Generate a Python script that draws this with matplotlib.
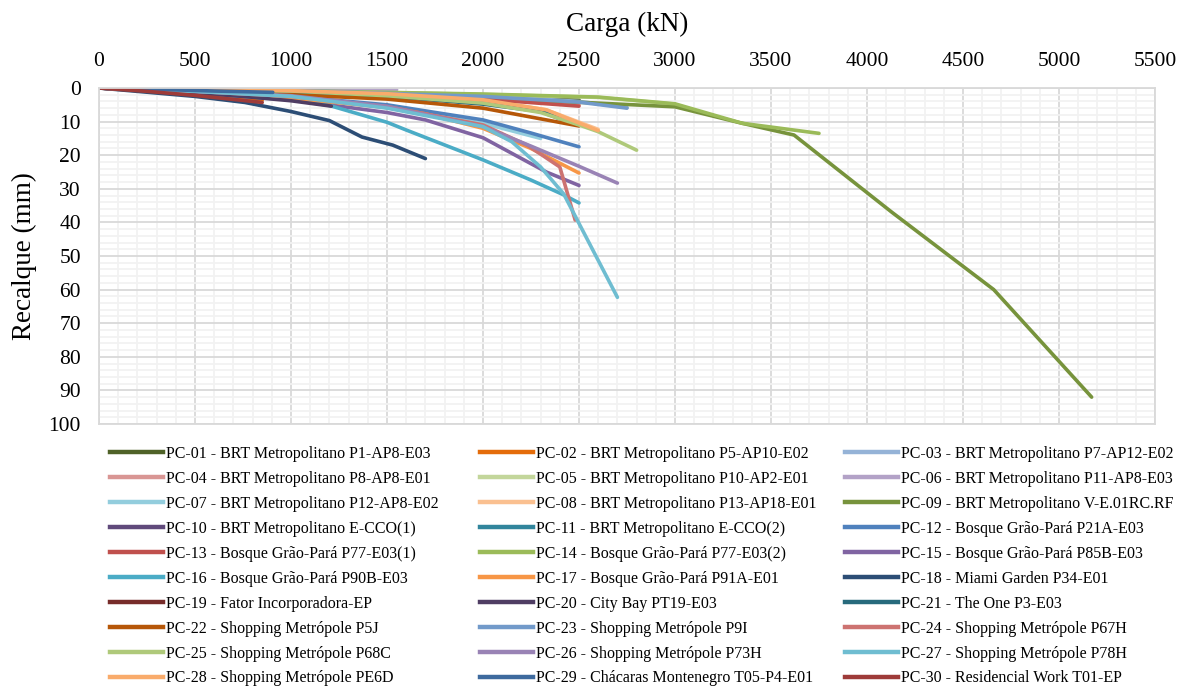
import matplotlib
matplotlib.use('Agg')
import matplotlib.pyplot as plt
from matplotlib.lines import Line2D
from matplotlib.ticker import MultipleLocator

plt.rcParams['font.family'] = ['Liberation Serif', 'DejaVu Serif']

# Curvas carga x recalque (carga em kN, recalque em mm)
labels = [
    'PC-01 - BRT Metropolitano P1-AP8-E03',
    'PC-02 - BRT Metropolitano P5-AP10-E02',
    'PC-03 - BRT Metropolitano P7-AP12-E02',
    'PC-04 - BRT Metropolitano P8-AP8-E01',
    'PC-05 - BRT Metropolitano P10-AP2-E01',
    'PC-06 - BRT Metropolitano P11-AP8-E03',
    'PC-07 - BRT Metropolitano P12-AP8-E02',
    'PC-08 - BRT Metropolitano P13-AP18-E01',
    'PC-09 - BRT Metropolitano V-E.01RC.RF',
    'PC-10 - BRT Metropolitano E-CCO(1)',
    'PC-11 - BRT Metropolitano E-CCO(2)',
    'PC-12 - Bosque Grão-Pará P21A-E03',
    'PC-13 - Bosque Grão-Pará P77-E03(1)',
    'PC-14 - Bosque Grão-Pará P77-E03(2)',
    'PC-15 - Bosque Grão-Pará P85B-E03',
    'PC-16 - Bosque Grão-Pará P90B-E03',
    'PC-17 - Bosque Grão-Pará P91A-E01',
    'PC-18 - Miami Garden P34-E01',
    'PC-19 - Fator Incorporadora-EP',
    'PC-20 - City Bay PT19-E03',
    'PC-21 - The One P3-E03',
    'PC-22 - Shopping Metrópole P5J',
    'PC-23 - Shopping Metrópole P9I',
    'PC-24 - Shopping Metrópole P67H',
    'PC-25 - Shopping Metrópole P68C',
    'PC-26 - Shopping Metrópole P73H',
    'PC-27 - Shopping Metrópole P78H',
    'PC-28 - Shopping Metrópole PE6D',
    'PC-29 - Chácaras Montenegro T05-P4-E01',
    'PC-30 - Residencial Work T01-EP',
]

colors = [
    '#4F6228', '#E46C0A', '#95B3D7', '#D99694', '#C3D69B', '#B3A2C7',
    '#93CDDD', '#FAC090', '#77933C', '#604A7B', '#31859C', '#4F81BD',
    '#C0504D', '#9BBB59', '#8064A2', '#4BACC6', '#F79646', '#2C4D75',
    '#772C2A', '#4F3D63', '#276A7C', '#B65708', '#729ACA', '#CD7371',
    '#AFC97A', '#9983B5', '#6FBDD1', '#F9AB6B', '#3E6A9E', '#9E3B39',
]

pc01_x = [0, 500, 1000, 1500, 2000, 2500]
pc01_y = [0, 0.3, 0.8, 1.5, 2.5, 3.5]
pc02_x = [0, 250, 500, 750, 850]
pc02_y = [0, 0.8, 1.8, 3.0, 3.6]
pc03_x = [0, 1000, 2000, 2500, 2750]
pc03_y = [0, 0.7, 2.3, 4.0, 5.8]
pc04_x = [0, 500, 1000, 1500, 2000, 2500]
pc04_y = [0, 0.4, 1.0, 1.8, 3.0, 5.0]
pc05_x = [0, 1000, 2000, 2600, 3000]
pc05_y = [0, 0.8, 1.9, 2.8, 4.8]
pc06_x = [0, 500, 1000, 1550]
pc06_y = [0, 0.1, 0.3, 0.5]
pc07_x = [0, 500, 1000, 1500, 2000, 2300]
pc07_y = [0, 1.0, 2.5, 5.5, 10.5, 15.0]
pc08_x = [0, 500, 1000, 1500, 2000, 2330, 2600]
pc08_y = [0, 0.3, 0.8, 1.5, 3.5, 6.5, 12.3]
pc09_x = [0, 1000, 2000, 2600, 3000, 3350, 3620, 4130, 4660, 5170]
pc09_y = [0, 1.0, 3.0, 4.5, 5.6, 10.5, 14.0, 37.0, 60.0, 92.0]
pc10_x = [0, 500, 1000, 1200]
pc10_y = [0, 1.2, 3.0, 4.3]
pc11_x = [0, 1000, 1500, 2000, 2300, 2450]
pc11_y = [0, 1.0, 2.3, 4.5, 6.8, 10.0]
pc12_x = [0, 500, 1000, 1500, 1720, 2000, 2250, 2500]
pc12_y = [0, 1.0, 2.5, 5.0, 7.0, 9.5, 13.4, 17.5]
pc13_x = [0, 1000, 1500, 2000, 2500]
pc13_y = [0, 1.0, 2.0, 3.3, 5.4]
pc14_x = [0, 1000, 2000, 2600, 3000, 3350, 3750]
pc14_y = [0, 0.8, 1.8, 2.7, 4.7, 10.5, 13.5]
pc15_x = [0, 500, 1000, 1500, 1700, 2000, 2330, 2500]
pc15_y = [0, 1.5, 3.5, 7.3, 9.5, 14.8, 25.0, 29.0]
pc16_x = [0, 500, 1000, 1200, 1500, 1600, 2000, 2250, 2420, 2500]
pc16_y = [0, 1.5, 3.5, 5.2, 10.2, 12.5, 21.4, 27.4, 31.8, 34.2]
pc17_x = [0, 500, 1000, 1500, 1700, 2000, 2250, 2500]
pc17_y = [0, 1.2, 3.0, 5.8, 7.7, 12.0, 18.0, 25.3]
pc18_x = [0, 500, 760, 1000, 1200, 1370, 1530, 1700]
pc18_y = [0, 2.5, 4.3, 7.0, 9.7, 14.6, 17.0, 21.0]
pc19_x = [0, 500, 1000, 1500, 1600]
pc19_y = [0, 0.5, 1.2, 2.5, 3.3]
pc20_x = [0, 250, 500, 750, 1000, 1210]
pc20_y = [0, 0.6, 1.5, 2.5, 3.8, 5.4]
pc21_x = [0, 1000, 1500, 2000, 2300, 2460]
pc21_y = [0, 1.0, 2.5, 4.8, 7.0, 10.5]
pc22_x = [0, 500, 1000, 1500, 2000, 2500]
pc22_y = [0, 0.8, 2.0, 3.3, 6.0, 11.3]
pc23_x = [0, 1000, 2000, 2500, 2750]
pc23_y = [0, 0.7, 2.5, 4.2, 6.0]
pc24_x = [0, 500, 1000, 1500, 2000, 2230, 2400, 2480]
pc24_y = [0, 1.0, 2.5, 5.5, 11.0, 17.0, 23.5, 39.3]
pc25_x = [0, 1000, 1500, 2000, 2300, 2500, 2600, 2800]
pc25_y = [0, 0.9, 2.3, 4.5, 7.3, 11.0, 13.0, 18.5]
pc26_x = [0, 500, 1000, 1500, 2000, 2250, 2500, 2700]
pc26_y = [0, 1.0, 2.3, 5.5, 11.5, 17.3, 23.3, 28.3]
pc27_x = [0, 500, 1000, 1500, 2000, 2150, 2300, 2420, 2700]
pc27_y = [0, 1.0, 2.5, 6.0, 11.5, 16.0, 23.5, 31.5, 62.3]
pc28_x = [0, 500, 1000, 1500, 2000, 2330, 2600]
pc28_y = [0, 0.3, 0.8, 1.7, 3.5, 6.5, 12.7]
pc29_x = [0, 300, 600, 905]
pc29_y = [0, 0.4, 0.9, 1.3]
pc30_x = [0, 250, 500, 850]
pc30_y = [0, 1.0, 2.2, 4.3]

series = [
    (pc01_x, pc01_y), (pc02_x, pc02_y), (pc03_x, pc03_y), (pc04_x, pc04_y),
    (pc05_x, pc05_y), (pc06_x, pc06_y), (pc07_x, pc07_y), (pc08_x, pc08_y),
    (pc09_x, pc09_y), (pc10_x, pc10_y), (pc11_x, pc11_y), (pc12_x, pc12_y),
    (pc13_x, pc13_y), (pc14_x, pc14_y), (pc15_x, pc15_y), (pc16_x, pc16_y),
    (pc17_x, pc17_y), (pc18_x, pc18_y), (pc19_x, pc19_y), (pc20_x, pc20_y),
    (pc21_x, pc21_y), (pc22_x, pc22_y), (pc23_x, pc23_y), (pc24_x, pc24_y),
    (pc25_x, pc25_y), (pc26_x, pc26_y), (pc27_x, pc27_y), (pc28_x, pc28_y),
    (pc29_x, pc29_y), (pc30_x, pc30_y),
]

fig = plt.figure(figsize=(11.89, 6.86), dpi=100)
ax = fig.add_axes([99 / 1189, 1 - 424 / 686, (1155 - 99) / 1189, (424 - 88) / 686])

for (x, y), c, lab in zip(series, colors, labels):
    ax.plot(x, y, color=c, lw=2.6, solid_capstyle='round', label=lab)

ax.set_xlim(0, 5500)
ax.set_ylim(100, 0)
ax.xaxis.set_major_locator(MultipleLocator(500))
ax.xaxis.set_minor_locator(MultipleLocator(100))
ax.yaxis.set_major_locator(MultipleLocator(10))
ax.yaxis.set_minor_locator(MultipleLocator(2))
ax.grid(which='major', color='#D9D9D9', lw=1.3)
ax.grid(which='minor', color='#F2F2F2', lw=1.3)
ax.set_axisbelow(True)
ax.xaxis.tick_top()
ax.xaxis.set_label_position('top')
ax.tick_params(which='both', length=0, labelsize=15.5)
ax.tick_params(axis='x', pad=12)
ax.tick_params(axis='y', pad=13)
for s in ax.spines.values():
    s.set_color('#D9D9D9')
    s.set_linewidth(1.3)

ax.set_xlabel('Carga (kN)', fontsize=19.5, labelpad=15)
ax.set_ylabel('Recalque (mm)', fontsize=19.5, labelpad=8)

# legenda em tres colunas (ordem por linha)
handles = [Line2D([], [], color=c, lw=3.2) for c in colors]
col_x = [110 / 1189, 480 / 1189, 845 / 1189]
for k in range(3):
    idx = list(range(k, 30, 3))
    fig.legend([handles[i] for i in idx], [labels[i] for i in idx],
               loc='upper left', bbox_to_anchor=(col_x[k], 1 - 446 / 686),
               frameon=False, fontsize=11.5, handlelength=3.3,
               handletextpad=0.2, borderpad=0, borderaxespad=0,
               labelspacing=0.56)

fig.savefig('out.png', dpi=100)
